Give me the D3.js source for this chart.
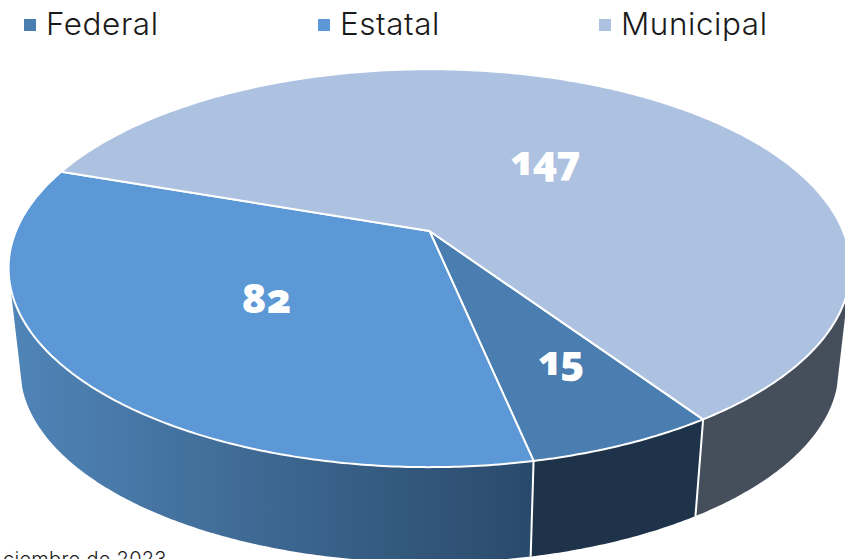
<!DOCTYPE html>
<html><head><meta charset="utf-8">
<script src="https://cdn.jsdelivr.net/npm/d3@7/dist/d3.min.js"></script>
<style>html,body{margin:0;padding:0;background:#fff;overflow:hidden}svg{display:block}</style>
</head><body><svg id="c" width="845" height="559"></svg>
<script>
const categories = ["Federal","Estatal","Municipal"];
const values = [15,82,147];
const topColors = ["#4a7eb0","#5b98d5","#adc2e0"];
const sideColors = ["#1e3349","#5085b8","#454f5c"];
const sideColorsEnd = ["#1e3349","#2a4a6b","#454f5c"];
const labelRadii = [0.68,0.494,0.467];
const labelNudgeX = [8,0,6];
const labelNudgeY = [-7,0,-4];
const legendX = [22,316,597];
const footnote = "ciembre de 2023";

const svg = d3.select("#c");
const font = "Inter, 'Open Sans', sans-serif";
const labelFont = "'Open Sans', sans-serif";
const cx=429.5, cy=231, f=413.5, g=192, k=0.1869;
const sideScale=0.972, sideCy=333;
const deg=Math.PI/180, tau=2*Math.PI;
const project=(a,r=1)=>{const u=Math.sin(a)*r,v=-Math.cos(a)*r,w=1-k*v;return [cx+f*u/w,cy+g*v/w];};
const projectBottom=a=>{const p=project(a);return [cx+(p[0]-cx)*sideScale,sideCy+(p[1]-cy)*sideScale];};
const pie=d3.pie().sort(null).startAngle(146*deg).endAngle(506*deg);
const arcs=pie(values);
const line=d3.line();
const arcPts=(a0,a1,fn)=>{const n=Math.max(2,Math.ceil(Math.abs(a1-a0)/0.01));return d3.range(n+1).map(i=>fn(a0+(a1-a0)*i/n));};

const defs=svg.append("defs");
const visL=254*deg, visR=106*deg;

// side walls: each slice's arc clipped to the visible front range
arcs.forEach((d,i)=>{
  let s=d.startAngle,e=d.endAngle;
  if(e>tau){s-=tau;e-=tau;}
  s=Math.max(s,visR);e=Math.min(e,visL);
  if(e<=s) return;
  const id="side"+i;
  const gr=defs.append("linearGradient").attr("id",id).attr("gradientUnits","userSpaceOnUse")
    .attr("x1",10).attr("x2",530).attr("y1",0).attr("y2",0);
  gr.append("stop").attr("offset","0").attr("stop-color",sideColors[i]);
  gr.append("stop").attr("offset","1").attr("stop-color",sideColorsEnd[i]);
  const pts=arcPts(s,e,project).concat(arcPts(e,s,projectBottom));
  svg.append("path").attr("d",line(pts)+"Z").attr("fill",`url(#${id})`);
});
// seams at slice boundaries on the front wall
arcs.forEach(d=>{
  const a=d.startAngle%tau;
  if(a>visR&&a<visL){const p=project(a),q=projectBottom(a);
    svg.append("line").attr("x1",p[0]).attr("y1",p[1]).attr("x2",q[0]).attr("y2",q[1])
      .attr("stroke","#fff").attr("stroke-width",2);}
});

// top slices
arcs.forEach((d,i)=>{
  const pts=[[cx,cy]].concat(arcPts(d.startAngle,d.endAngle,project));
  svg.append("path").attr("d",line(pts)+"Z").attr("fill",topColors[i])
    .attr("stroke","#fff").attr("stroke-width",2).attr("stroke-linejoin","round");
});

// value labels
arcs.forEach((d,i)=>{
  const p=project((d.startAngle+d.endAngle)/2,labelRadii[i]);
  svg.append("text").attr("x",p[0]+labelNudgeX[i]).attr("y",p[1]+labelNudgeY[i]).attr("dy","0.36em").attr("text-anchor","middle")
    .attr("font-family",labelFont).attr("font-weight",800).attr("font-size",41).attr("fill","#fff")
    .style("font-feature-settings","'onum','pnum'").text(values[i]);
});

// legend
categories.forEach((c,i)=>{
  svg.append("rect").attr("x",legendX[i]+2).attr("y",19).attr("width",12).attr("height",12).attr("fill",topColors[i]);
  svg.append("text").attr("x",legendX[i]+24).attr("y",35).attr("font-family",font).attr("font-weight",300)
    .attr("font-size",31.4).attr("letter-spacing",0.6).attr("fill","#1a1a1a").text(c);
});
svg.append("text").attr("x",3).attr("y",566).attr("font-family",font).attr("font-weight",300).attr("font-size",20).attr("letter-spacing",0.3).attr("fill","#1a1a1a").text(footnote);
</script></body></html>
